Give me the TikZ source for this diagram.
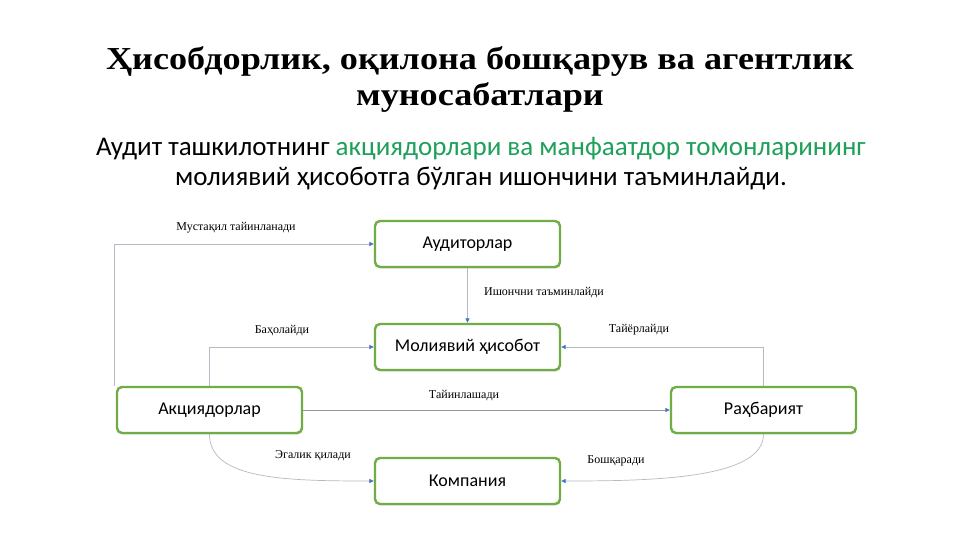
\documentclass[tikz,border=0pt]{standalone}
\usepackage{fontspec}
\setmainfont{Liberation Serif}
\newfontfamily\titlefont[FakeStretch=1.13]{Liberation Serif}
\newfontfamily\carlito{Carlito}
\usetikzlibrary{arrows.meta,shadows}
\definecolor{boxgreen}{RGB}{112,173,71}
\definecolor{txtgreen}{RGB}{30,160,90}
\definecolor{linegray}{RGB}{180,185,195}
\definecolor{arrowblue}{RGB}{68,114,196}
\tikzset{
  entity/.style={draw=boxgreen, line width=2.4pt, rounded corners=5pt, fill=white,
    minimum width=185pt, minimum height=46pt, font=\carlito\fontsize{18}{21}\selectfont,
    drop shadow={shadow xshift=0.6pt, shadow yshift=-1.6pt, opacity=0.25, fill=gray}},
  conn/.style={draw=linegray, line width=0.7pt, -{Triangle[length=4.5pt,width=4pt,color=arrowblue]}},
  elabel/.style={font=\fontsize{12}{14}\selectfont, inner sep=1pt}
}
\begin{document}
\begin{tikzpicture}[x=1pt,y=-1pt]
\useasboundingbox (0,0) rectangle (961,540);
\fill[white] (0,0) rectangle (961,540);

\node[font=\titlefont\bfseries\fontsize{32}{36}\selectfont, align=center, anchor=base] (title) at (480,106)
  {Ҳисобдорлик, оқилона бошқарув ва агентлик\\муносабатлари};
\node[font=\carlito\fontsize{27}{30}\selectfont, align=center, anchor=base] (sub) at (481,186)
  {Аудит ташкилотнинг \textcolor{txtgreen}{акциядорлари ва манфаатдор томонларининг}\\молиявий ҳисоботга бўлган ишончини таъминлайди.};

\node[entity] (aud) at (467.5,244) {Аудиторлар};
\node[entity] (mol) at (467.5,347) {Молиявий ҳисобот};
\node[entity] (akc) at (209.5,410) {Акциядорлар};
\node[entity] (rah) at (763.5,410) {Раҳбарият};
\node[entity] (kom) at (467.5,481) {Компания};

\coordinate (akcl) at ([xshift=-1pt]akc.north west);
\draw[conn] (akcl) |- (aud.west);
\draw[conn] (aud.south) -- (mol.north);
\draw[conn] (akc.north) |- (mol.west);
\draw[conn] (rah.north) |- (mol.east);
\draw[conn, draw=gray!80] (akc.east) -- (rah.west);
\draw[conn] (akc.south) .. controls +(0,45) and +(-90,0) .. (kom.west);
\draw[conn] (rah.south) .. controls +(0,45) and +(90,0) .. (kom.east);

\node[elabel] (l1) at (236,228) {Мустақил тайинланади};
\node[elabel] (l2) at (544,293) {Ишончни таъминлайди};
\node[elabel] (l3) at (282,331) {Баҳолайди};
\node[elabel] (l4) at (639,330) {Тайёрлайди};
\node[elabel] (l5) at (464,396) {Тайинлашади};
\node[elabel] (l6) at (313,456) {Эгалик қилади};
\node[elabel] (l7) at (616,461) {Бошқаради};
\end{tikzpicture}
\end{document}
